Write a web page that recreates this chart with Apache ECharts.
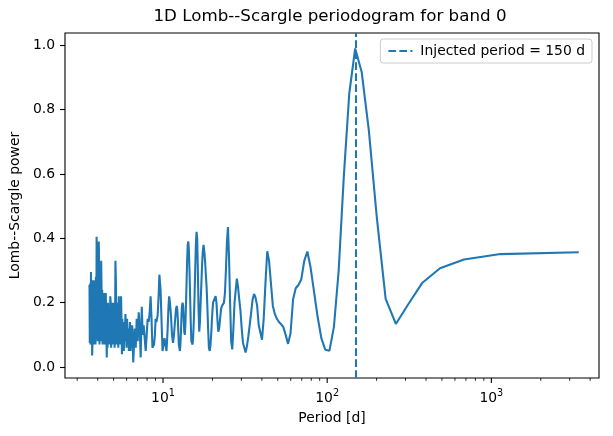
<!DOCTYPE html>
<html>
<head>
<meta charset="utf-8">
<title>1D Lomb--Scargle periodogram</title>
<script src="https://cdn.jsdelivr.net/npm/echarts@6/dist/echarts.min.js"></script>
<style>
  html, body { margin: 0; padding: 0; background: #fff; }
  #chart { width: 613px; height: 436px; }
</style>
</head>
<body>
<div id="chart"></div>
<script>
// periodogram: period [d] and Lomb--Scargle power
const periods = [
  3407, 1136, 681.4, 486.7, 378.6, 309.7, 262.1, 227.1, 200.4, 179.3,
  162.2, 148.1, 136.3, 126.2, 117.5, 109.9, 103.2, 97.3, 92.1, 87.4,
  83.1, 79.2, 75.7, 72.5, 69.5, 66.8, 64.3, 61.96, 59.8, 57.76,
  55.86, 54.08, 52.42, 50.85, 49.38, 47.99, 46.67, 45.43, 44.25, 43.13,
  42.06, 41.05, 40.08, 39.16, 38.28, 37.44, 36.64, 35.87, 35.13, 34.42,
  33.73, 33.08, 32.45, 31.84, 31.26, 30.70, 30.15, 29.63, 29.12, 28.63,
  28.16, 27.70, 27.26, 26.83, 26.41, 26.01, 25.62, 25.24, 24.87, 24.51,
  24.16, 23.83, 23.50, 23.18, 22.87, 22.56, 22.27, 21.98, 21.70, 21.43,
  21.16, 20.90, 20.65, 20.40, 20.16, 19.92, 19.69, 19.47, 19.25, 19.03,
  18.82, 18.62, 18.42, 18.22, 18.03, 17.84, 17.65, 17.47, 17.30, 17.12,
  16.95, 16.78, 16.62, 16.46, 16.30, 16.15, 16.00, 15.85, 15.70, 15.56,
  15.42, 15.28, 15.14, 15.01, 14.88, 14.75, 14.62, 14.50, 14.38, 14.26,
  14.14, 14.02, 13.91, 13.79, 13.68, 13.57, 13.47, 13.36, 13.26, 13.16,
  13.05, 12.96, 12.86, 12.76, 12.67, 12.57, 12.48, 12.39, 12.30, 12.21,
  12.13, 11.99, 11.82, 11.66, 11.50, 11.34, 11.18, 11.02, 10.90, 10.80,
  10.65, 10.50, 10.36, 10.21, 10.07, 9.93, 9.80, 9.66, 9.50, 9.40,
  9.27, 9.12, 9.01, 8.92, 8.82, 8.72, 8.62, 8.51, 8.40, 8.29,
  8.18, 8.06, 7.95, 7.84, 7.73, 7.62, 7.52, 7.42, 7.31, 7.21,
  7.11, 7.01, 6.91, 6.82, 6.72, 6.63, 6.585, 6.54, 6.49, 6.44,
  6.39, 6.34, 6.29, 6.24, 6.19, 6.14, 6.09, 6.04, 5.99, 5.94,
  5.90, 5.85, 5.81, 5.77, 5.73, 5.69, 5.65, 5.62, 5.58, 5.55,
  5.52, 5.48, 5.45, 5.41, 5.38, 5.34, 5.31, 5.27, 5.24, 5.20,
  5.17, 5.13, 5.10, 5.07, 5.04, 5.01, 4.98, 4.95, 4.92, 4.89,
  4.86, 4.83, 4.80, 4.77, 4.74, 4.71, 4.68, 4.65, 4.62, 4.59,
  4.57, 4.54, 4.51, 4.48, 4.46, 4.43, 4.41, 4.38, 4.36, 4.34,
  4.32, 4.30, 4.28, 4.26, 4.24, 4.22, 4.20, 4.18, 4.16, 4.14,
  4.12, 4.10, 4.08, 4.06, 4.04, 4.02, 4.00, 3.98, 3.96, 3.94,
  3.92, 3.90, 3.88, 3.86, 3.84, 3.82, 3.80, 3.78, 3.76, 3.74,
  3.72, 3.70, 3.68, 3.66, 3.64, 3.62, 3.60, 3.58, 3.565
];
const power = [
  0.357, 0.351, 0.334, 0.307, 0.261, 0.193, 0.134, 0.212, 0.467, 0.736,
  0.917, 0.99, 0.85, 0.59, 0.30, 0.125, 0.051, 0.054, 0.09, 0.157,
  0.235, 0.31, 0.359, 0.33, 0.272, 0.255, 0.245, 0.21, 0.105, 0.072,
  0.10, 0.124, 0.133, 0.14, 0.15, 0.165, 0.19, 0.26, 0.33, 0.36,
  0.26, 0.15, 0.085, 0.09, 0.13, 0.19, 0.215, 0.227, 0.21, 0.17,
  0.13, 0.095, 0.065, 0.045, 0.045, 0.075, 0.12, 0.175, 0.21, 0.25,
  0.275, 0.27, 0.2, 0.12, 0.055, 0.08, 0.2, 0.34, 0.435, 0.39,
  0.3, 0.23, 0.2, 0.195, 0.19, 0.18, 0.15, 0.12, 0.11, 0.15,
  0.2, 0.22, 0.22, 0.215, 0.2, 0.16, 0.11, 0.07, 0.05, 0.06,
  0.12, 0.19, 0.25, 0.29, 0.33, 0.36, 0.38, 0.36, 0.32, 0.26,
  0.2, 0.14, 0.11, 0.18, 0.3, 0.4, 0.42, 0.38, 0.3, 0.22,
  0.15, 0.1, 0.07, 0.065, 0.08, 0.14, 0.22, 0.3, 0.36, 0.39,
  0.38, 0.33, 0.26, 0.19, 0.13, 0.1, 0.11, 0.15, 0.19, 0.2,
  0.19, 0.16, 0.11, 0.07, 0.05, 0.05, 0.07, 0.11, 0.15, 0.18,
  0.19, 0.18, 0.14, 0.10, 0.075, 0.10, 0.16, 0.20, 0.22, 0.19,
  0.11, 0.05, 0.055, 0.09, 0.07, 0.05, 0.14, 0.24, 0.287, 0.22,
  0.16, 0.14, 0.15, 0.10, 0.07, 0.065, 0.06, 0.15, 0.22, 0.17,
  0.14, 0.15, 0.10, 0.05, 0.09, 0.13, 0.10, 0.187, 0.03, 0.12,
  0.17, 0.08, 0.15, 0.06, 0.12, 0.05, 0.014, 0.07, 0.13, 0.06,
  0.12, 0.05, 0.14, 0.10, 0.05, 0.12, 0.07, 0.15, 0.06, 0.13,
  0.165, 0.08, 0.14, 0.05, 0.12, 0.07, 0.15, 0.04, 0.16, 0.22,
  0.12, 0.07, 0.20, 0.10, 0.22, 0.06, 0.18, 0.10, 0.20, 0.07,
  0.25, 0.33, 0.12, 0.06, 0.20, 0.09, 0.18, 0.07, 0.20, 0.10,
  0.17, 0.06, 0.20, 0.22, 0.10, 0.07, 0.18, 0.09, 0.20, 0.06,
  0.15, 0.03, 0.14, 0.23, 0.08, 0.22, 0.07, 0.23, 0.10, 0.23,
  0.08, 0.22, 0.07, 0.24, 0.09, 0.25, 0.33, 0.08, 0.26, 0.10,
  0.28, 0.07, 0.30, 0.39, 0.10, 0.27, 0.08, 0.30, 0.12, 0.405,
  0.09, 0.28, 0.07, 0.27, 0.10, 0.26, 0.07, 0.27, 0.09, 0.26,
  0.08, 0.036, 0.27, 0.08, 0.295, 0.07, 0.26, 0.075, 0.255
];
const injectedPeriod = 150;
const injectedLabel = 'Injected period = ' + injectedPeriod + ' d';
const majorTicks = [10, 100, 1000];
const minorTicks = [3, 4, 5, 6, 7, 8, 9, 20, 30, 40, 50, 60, 70, 80, 90,
  200, 300, 400, 500, 600, 700, 800, 900, 2000, 3000, 4000];
const yTicks = [0, 0.2, 0.4, 0.6, 0.8, 1.0];

const xMin = 2.528, xMax = 4527;
const yMin = -0.034, yMax = 1.038;
const blue = '#1f77b4';
const font = 'DejaVu Sans';

const chart = echarts.init(document.getElementById('chart'));

function tickSeries(values, len, width) {
  return {
    type: 'custom',
    silent: true,
    clip: false,
    z: 5,
    data: values.map(v => [v, 0]),
    renderItem(params, api) {
      const p = api.coord([api.value(0), yMin]);
      return {
        type: 'line',
        shape: { x1: p[0], y1: p[1], x2: p[0], y2: p[1] + len },
        style: { stroke: '#000', lineWidth: width }
      };
    }
  };
}

const option = {
  animation: false,
  backgroundColor: '#fff',
  textStyle: { fontFamily: font },
  graphic: [{
    type: 'text',
    x: 330, y: 17,
    style: {
      text: '1D Lomb--Scargle periodogram for band 0',
      align: 'center', verticalAlign: 'middle',
      font: '16.7px "DejaVu Sans"', fill: '#000'
    }
  }],
  grid: {
    left: 61, right: 14, top: 33, bottom: 58,
    show: true, borderColor: '#000', borderWidth: 1.1, backgroundColor: 'transparent'
  },
  legend: {
    data: [injectedLabel],
    right: 21, top: 39,
    padding: [5, 7, 5, 7],
    itemWidth: 24, itemHeight: 14, itemGap: 10,
    itemStyle: { opacity: 0 },
    borderColor: '#cccccc', borderWidth: 1, borderRadius: 3,
    backgroundColor: 'rgba(255,255,255,0.8)',
    textStyle: { fontFamily: font, fontSize: 13.9, color: '#000', padding: [0, 0, 0, 3] }
  },
  xAxis: {
    type: 'log', logBase: 10, min: xMin, max: xMax,
    name: 'Period [d]', nameLocation: 'middle', nameGap: 33,
    nameTextStyle: { fontFamily: font, fontSize: 13.9, color: '#000' },
    axisLine: { show: false },
    axisTick: { show: false },
    splitLine: { show: false },
    minorTick: { show: false },
    axisLabel: {
      margin: 10,
      color: '#000',
      formatter(v) {
        const e = Math.log10(v);
        if (Math.abs(e - Math.round(e)) > 1e-6) return '';
        return '{b|10}{s|' + Math.round(e) + '}';
      },
      rich: {
        b: { fontFamily: font, fontSize: 13.9, color: '#000' },
        s: { fontFamily: font, fontSize: 9.7, color: '#000', padding: [0, 0, 10, 0] }
      }
    }
  },
  yAxis: {
    type: 'value', min: yMin, max: yMax,
    name: 'Lomb--Scargle power', nameLocation: 'middle', nameGap: 32,
    nameTextStyle: { fontFamily: font, fontSize: 13.9, color: '#000' },
    axisLine: { show: false },
    splitLine: { show: false },
    axisTick: { show: true, length: 5, customValues: yTicks, lineStyle: { color: '#000', width: 1.1 } },
    axisLabel: {
      customValues: yTicks, margin: 10,
      fontFamily: font, fontSize: 13.9, color: '#000',
      formatter: v => v.toFixed(1)
    }
  },
  series: [
    {
      type: 'line',
      name: 'power',
      data: periods.map((p, i) => [p, power[i]]),
      showSymbol: false,
      symbol: 'none',
      lineStyle: { color: blue, width: 2.08 },
      itemStyle: { color: blue },
      z: 3
    },
    {
      type: 'line',
      name: injectedLabel,
      data: [],
      symbol: 'none',
      lineStyle: { color: blue, width: 2.08, type: [7.7, 3.3] },
      itemStyle: { color: blue, opacity: 0 },
      markLine: {
        silent: true,
        symbol: 'none',
        label: { show: false },
        lineStyle: { color: blue, width: 2.08, type: [7.7, 3.3], opacity: 1 },
        data: [{ xAxis: injectedPeriod }]
      },
      z: 4
    },
    tickSeries(majorTicks, 4.9, 1.1),
    tickSeries(minorTicks, 2.8, 0.85)
  ]
};

chart.setOption(option);
</script>
</body>
</html>
